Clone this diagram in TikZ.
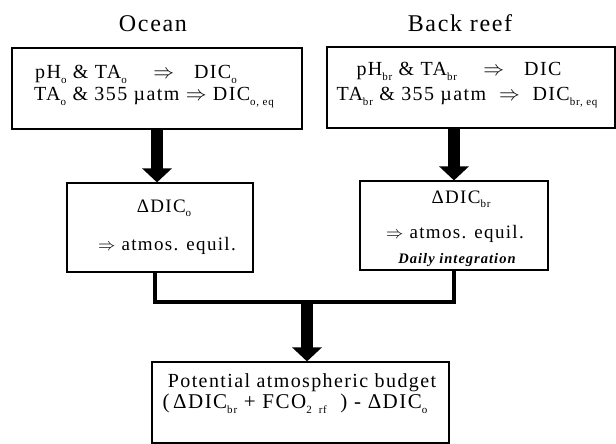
\documentclass[tikz,border=0pt]{standalone}
\usepackage{fontspec}
\setmainfont[LetterSpace=7]{Liberation Serif}
\usetikzlibrary{arrows.meta}
\pgfkeys{/pixel/.code=\tikzset{x={(1pt,0pt)},y={(0pt,-1pt)}}}
\newcommand{\lw}[1]{\raisebox{-.55ex}{\fontsize{11}{11}\selectfont#1}}
\newcommand{\imp}{$\Rightarrow$}

\begin{document}
\begin{tikzpicture}[/pixel,
  box/.style={draw,line width=1.2pt,inner sep=0pt},
  txt/.style={anchor=base,inner sep=0pt,font=\fontsize{19}{22}\selectfont},
  big/.style={txt,font=\fontsize{20}{24}\selectfont},
  head/.style={anchor=base,inner sep=0pt,font=\fontsize{24}{28}\selectfont},
  fat/.style={line width=12pt,-{Triangle[width=29pt,length=14pt]}},
  joint/.style={line width=4pt}]
\useasboundingbox (0,0) rectangle (616,444);
% titles
\node[head] (ocean) at (153,32) {Ocean};
\node[head] (reef) at (460,32) {Back reef};
% input boxes
\node[box,minimum width=290,minimum height=81] (ocin) at (157,88.5) {};
\node[big] (ocA) at (136,78) {pH\lw{o} \& TA\lw{o} \quad\imp\quad DIC\lw{o}};
\node[big] (ocB) at (154,100) {TA\lw{o} \& 355 µatm \imp\ DIC\lw{o, eq}};
\node[box,minimum width=288,minimum height=81] (brin) at (471,87.5) {};
\node[big] (brA) at (459,75) {pH\lw{br} \& TA\lw{br} \quad\imp\quad DIC};
\node[big] (brB) at (467,100) {TA\lw{br} \& 355 µatm \ \imp\ \ DIC\lw{br, eq}};
% delta boxes
\node[box,minimum width=186,minimum height=89] (ocd) at (160,227.5) {};
\node[txt] (ocdA) at (164,212) {ΔDIC\lw{o}};
\node[txt] (ocdB) at (167,250) {\imp\ atmos. equil.};
\node[box,minimum width=188,minimum height=89] (brd) at (454,225.5) {};
\node[txt] (brdA) at (461,203) {ΔDIC\lw{br}};
\node[txt] (brdB) at (455,238) {\imp\ atmos. equil.};
\node[txt,font=\fontsize{14.5}{16}\selectfont\bfseries\itshape] (brdC) at (457,263) {Daily integration};
% budget
\node[box,minimum width=297,minimum height=81] (budget) at (300.5,402.5) {};
\node[big] (budA) at (302,387) {Potential atmospheric budget};
\node[big,font=\fontsize{21}{24}\selectfont] (budB) at (295,408) {(\,ΔDIC\lw{br}\ + FCO\lw{2\ \ rf}\ \ ) - ΔDIC\lw{o}};
% arrows
\draw[fat] (ocin.south) -- (ocin.south |- ocd.north);
\draw[fat] (brin.south -| brd.north) -- (brd.north);
\coordinate (mid) at (307,302);
\draw[joint] ([xshift=-5pt]ocd.south) |- (mid) -| (brd.south);
\draw[fat] (mid) -- (mid |- budget.north);
\end{tikzpicture}
\end{document}
